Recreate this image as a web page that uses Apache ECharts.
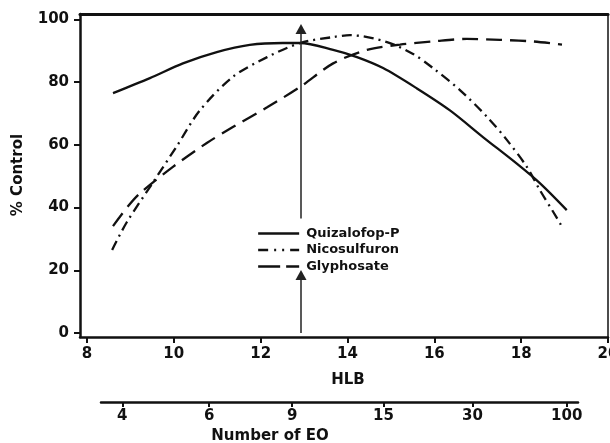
<!DOCTYPE html>
<html>
<head>
<meta charset="utf-8">
<script src="https://cdn.jsdelivr.net/npm/echarts@6/dist/echarts.min.js"></script>
<style>
html,body{margin:0;padding:0;background:#fff;}
#chart{width:610px;height:443px;}
</style>
</head>
<body>
<div id="chart"></div>
<script>
// ---- data ----
var seriesNames = ['Quizalofop-P', 'Nicosulfuron', 'Glyphosate'];
var quizHLB = [8.6, 9.45, 10.21, 10.99, 11.75, 12.51, 12.91, 13.67, 14.22, 14.82, 15.6, 16.36, 17.12, 17.9, 18.43, 19.05];
var quizVal = [76.5, 81.3, 86, 89.6, 91.9, 92.5, 92.5, 90.3, 88, 84.5, 78, 71, 62.5, 54, 47.8, 39.2];
var nicoHLB = [8.58, 8.92, 9.52, 10.07, 10.6, 11.36, 12.15, 12.91, 13.67, 14.06, 14.91, 15.51, 15.97, 16.59, 17.21, 17.67, 18.13, 18.43, 18.74, 18.92];
var nicoVal = [26.5, 35.4, 48, 59.6, 71, 81.7, 88, 92.5, 94.4, 95, 92.8, 89, 84.5, 77.5, 69, 61.6, 53, 45.6, 38.6, 34.4];
var glyHLB = [8.6, 8.95, 9.23, 9.98, 10.76, 11.36, 12.15, 12.91, 13.67, 14.45, 15.21, 15.97, 16.75, 17.51, 18.27, 18.94];
var glyVal = [34.1, 40.5, 44.7, 53, 60.6, 65.7, 72, 78.5, 86, 90.3, 92, 93, 93.8, 93.5, 93, 92];
var hlbTicks = [8, 10, 12, 14, 16, 18, 20];
var pctTicks = [0, 20, 40, 60, 80, 100];
var eoLabels = ['4', '6', '9', '15', '30', '100'];
var eoHLB = [8.81, 10.81, 12.72, 14.82, 16.87, 19.04];
var arrowHLB = 12.93;

function pairs(xs, ys) { return xs.map(function (x, i) { return [x, ys[i]]; }); }

var FONT = 'DejaVu Sans';
var INK = '#111';

var chart = echarts.init(document.getElementById('chart'), null, {renderer: 'canvas'});

var lineTypes = ['solid', [10, 5, 2, 5], [16, 8]];
var legendLineTypes = ['solid', [10, 6, 2, 6, 2, 6], [22, 6]];
var datasets = [pairs(quizHLB, quizVal), pairs(nicoHLB, nicoVal), pairs(glyHLB, glyVal)];

var series = seriesNames.map(function (name, i) {
  return {
    name: name,
    type: 'line',
    xAxisIndex: 0,
    yAxisIndex: 0,
    data: datasets[i],
    smooth: 0.3,
    symbol: 'none',
    showSymbol: false,
    lineStyle: {color: INK, width: 2.3, type: lineTypes[i]},
    itemStyle: {color: INK},
    silent: true,
    z: 3
  };
});

// arrows
series[0].markLine = {
  silent: true,
  symbol: ['none', 'triangle'],
  symbolSize: [11, 10],
  label: {show: false},
  lineStyle: {color: '#222', width: 1.5, type: 'solid'},
  data: [
    [{coord: [arrowHLB, 0]}, {coord: [arrowHLB, 18.5]}],
    [{coord: [arrowHLB, 36.5]}, {coord: [arrowHLB, 97]}]
  ]
};

var option = {
  animation: false,
  backgroundColor: '#fff',
  textStyle: {fontFamily: FONT},
  grid: [
    {left: 80, right: 2, top: 14, bottom: 106, show: false, containLabel: false, outerBoundsMode: 'none'},
    {left: 101, right: 32, top: 400, height: 2, show: false, containLabel: false, outerBoundsMode: 'none'}
  ],
  legend: {
    orient: 'vertical',
    left: 252,
    top: 222,
    itemWidth: 41,
    itemHeight: 14,
    itemGap: 3.5,
    itemStyle: {opacity: 0, borderWidth: 0},
    textStyle: {fontFamily: FONT, fontWeight: 'bold', fontSize: 13, color: INK, padding: [0, 0, 0, 2]},
    data: seriesNames.map(function (n, i) {
      return {name: n, lineStyle: {type: legendLineTypes[i], width: 2.3, color: INK}};
    }),
    selectedMode: false
  },
  xAxis: [
    {
      type: 'value', gridIndex: 0, position: 'bottom',
      min: 7.84, max: 20,
      splitLine: {show: false},
      axisLine: {show: true, onZero: false, lineStyle: {color: INK, width: 2.5}},
      axisTick: {show: true, length: 6, lineStyle: {color: INK, width: 2}, customValues: hlbTicks},
      axisLabel: {show: true, customValues: hlbTicks, fontFamily: FONT, fontWeight: 'bold', fontSize: 15, color: INK, margin: 10}
    },
    {
      type: 'value', gridIndex: 0, position: 'top',
      min: 7.84, max: 20,
      splitLine: {show: false},
      axisLine: {show: true, onZero: false, lineStyle: {color: INK, width: 3}},
      axisTick: {show: false}, axisLabel: {show: false}
    },
    {
      type: 'value', gridIndex: 1, position: 'bottom',
      min: 8.32, max: 19.3,
      splitLine: {show: false},
      axisLine: {show: true, onZero: false, lineStyle: {color: INK, width: 2.5}},
      axisTick: {show: true, length: 5, lineStyle: {color: INK, width: 2}, customValues: eoHLB},
      axisLabel: {
        show: true, customValues: eoHLB, margin: 7,
        fontFamily: FONT, fontWeight: 'bold', fontSize: 15, color: INK,
        formatter: function (v) {
          for (var i = 0; i < eoHLB.length; i++) { if (Math.abs(eoHLB[i] - v) < 1e-6) return eoLabels[i]; }
          return '';
        }
      }
    }
  ],
  yAxis: [
    {
      type: 'value', gridIndex: 0, position: 'left',
      min: -1.28, max: 101.75,
      splitLine: {show: false},
      axisLine: {show: true, onZero: false, lineStyle: {color: INK, width: 2.5}},
      axisTick: {show: true, length: 6, lineStyle: {color: INK, width: 2}, customValues: pctTicks},
      axisLabel: {show: true, customValues: pctTicks, fontFamily: FONT, fontWeight: 'bold', fontSize: 15, color: INK, margin: 11}
    },
    {
      type: 'value', gridIndex: 0, position: 'right',
      min: -1.28, max: 101.75,
      splitLine: {show: false},
      axisLine: {show: true, onZero: false, lineStyle: {color: INK, width: 1.5}},
      axisTick: {show: false}, axisLabel: {show: false}
    },
    {
      type: 'value', gridIndex: 1, show: false
    }
  ],
  graphic: [
    {type: 'text', x: 18, y: 175, rotation: Math.PI / 2, style: {text: '% Control', fontFamily: FONT, fontWeight: 'bold', fontSize: 15, fill: INK, textAlign: 'center', textVerticalAlign: 'middle'}},
    {type: 'text', x: 348, y: 380, style: {text: 'HLB', fontFamily: FONT, fontWeight: 'bold', fontSize: 15, fill: INK, textAlign: 'center', textVerticalAlign: 'middle'}},
    {type: 'text', x: 270, y: 436, style: {text: 'Number of EO', fontFamily: FONT, fontWeight: 'bold', fontSize: 15, fill: INK, textAlign: 'center', textVerticalAlign: 'middle'}}
  ],
  series: series
};

chart.setOption(option);
</script>
</body>
</html>
